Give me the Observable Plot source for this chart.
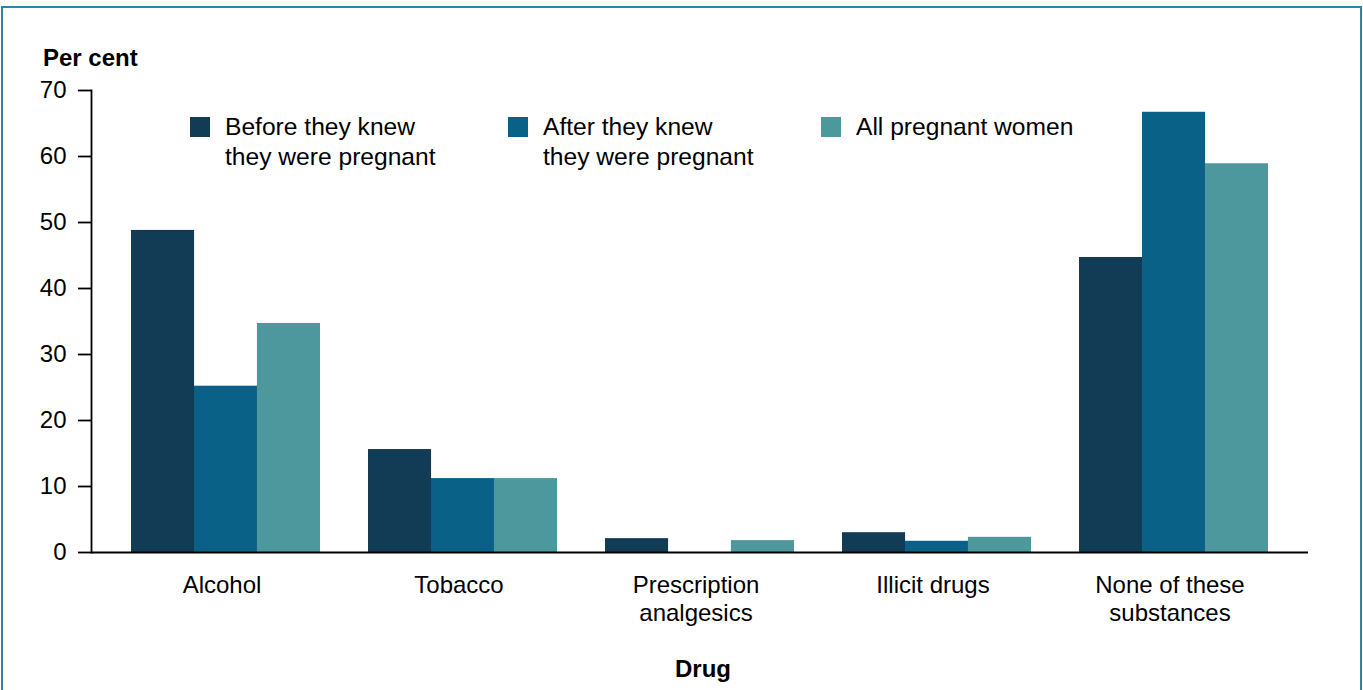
<!DOCTYPE html>
<html>
<head>
<meta charset="utf-8">
<script src="https://cdn.jsdelivr.net/npm/d3@7"></script>
<script src="https://cdn.jsdelivr.net/npm/@observablehq/plot@0.6"></script>
<style>
  html, body { margin: 0; padding: 0; background: #fff; overflow: hidden; }
  body { width: 1363px; height: 690px; position: relative; font-family: "Liberation Sans", Arial, sans-serif; color: #000; }
  #frame { position: absolute; left: 1px; top: 6px; width: 1361px; height: 720px; border: 2px solid #2f85a8; box-sizing: border-box; }
  #chart { position: absolute; left: 0; top: 0; }
  .lbl { position: absolute; font-size: 24px; line-height: 28px; white-space: nowrap; }
  .bold { font-weight: bold; }
  .leg { position: absolute; top: 112px; font-size: 24.6px; line-height: 30px; }
  .leg .sw { position: absolute; left: 0; top: 5px; width: 20px; height: 20px; }
  .leg .tx { position: absolute; left: 35px; top: 0; white-space: nowrap; }
</style>
</head>
<body>
<div id="frame"></div>
<div id="chart"></div>
<div class="lbl bold" style="left:43px; top:44px;">Per cent</div>
<div class="lbl bold" id="xlabel" style="left:703px; top:655px; transform: translateX(-50%);">Drug</div>
<div id="legend"></div>
<script>
// ---- data ----
const categories = ["Alcohol", "Tobacco", "Prescription analgesics", "Illicit drugs", "None of these substances"];
const categoryLabels = ["Alcohol", "Tobacco", "Prescription\nanalgesics", "Illicit drugs", "None of these\nsubstances"];
const seriesNames = ["Before they knew\nthey were pregnant", "After they knew\nthey were pregnant", "All pregnant women"];
const seriesColors = ["#123c55", "#0a6188", "#4c989d"];
const beforeKnew = [48.8, 15.6, 2.1, 3.0, 44.7];
const afterKnew = [25.2, 11.2, null, 1.7, 66.7];
const allPregnant = [34.7, 11.2, 1.8, 2.3, 58.9];
const yTicks = [0, 10, 20, 30, 40, 50, 60, 70];

const seriesValues = [beforeKnew, afterKnew, allPregnant];
const rows = [];
seriesValues.forEach((vals, s) => {
  categories.forEach((c, i) => {
    if (vals[i] != null) rows.push({category: c, series: s, value: vals[i]});
  });
});

const width = 1363, height = 690;
const marginLeft = 91, marginRight = 55, marginTop = 90, marginBottom = 138;
const paddingInner = 0.203, paddingOuter = 0.169;
// band width in pixels (used to split each band into three equal bars)
const step = (width - marginLeft - marginRight) / (categories.length - paddingInner + 2 * paddingOuter);
const bw = step * (1 - paddingInner);
const third = bw / 3;

const labelMap = new Map(categories.map((c, i) => [c, categoryLabels[i]]));

const marks = [];
seriesValues.forEach((vals, s) => {
  marks.push(Plot.barY(rows.filter(d => d.series === s), {
    x: "category",
    y: "value",
    fill: seriesColors[s],
    insetLeft: s * third,
    insetRight: (2 - s) * third
  }));
});

const plot = Plot.plot({
  width, height, marginLeft, marginRight, marginTop, marginBottom,
  style: {fontFamily: "'Liberation Sans', Arial, sans-serif", fontSize: "24px", color: "#000", background: "transparent"},
  x: {domain: categories, paddingInner, paddingOuter, axis: null},
  y: {domain: [0, 70], axis: null},
  marks: [
    ...marks,
    Plot.axisY({ticks: yTicks, tickSize: 13, tickPadding: 12, strokeWidth: 1.8, label: null, fontSize: 24}),
    Plot.axisX({tickSize: 0, tickPadding: 21, dx: -4, label: null, fontSize: 24, lineHeight: 1.15,
      tickFormat: d => labelMap.get(d)}),
    Plot.frame({anchor: "left", strokeWidth: 1.8}),
    Plot.ruleY([0], {strokeWidth: 2.2})
  ]
});
document.getElementById("chart").appendChild(plot);

// ---- legend ----
const legendLeft = [190, 508, 821];
const legend = document.getElementById("legend");
seriesNames.forEach((name, i) => {
  const item = document.createElement("div");
  item.className = "leg";
  item.style.left = legendLeft[i] + "px";
  const sw = document.createElement("div");
  sw.className = "sw";
  sw.style.background = seriesColors[i];
  const tx = document.createElement("div");
  tx.className = "tx";
  tx.innerHTML = name.split("\n").join("<br>");
  item.appendChild(sw);
  item.appendChild(tx);
  legend.appendChild(item);
});
</script>
</body>
</html>
